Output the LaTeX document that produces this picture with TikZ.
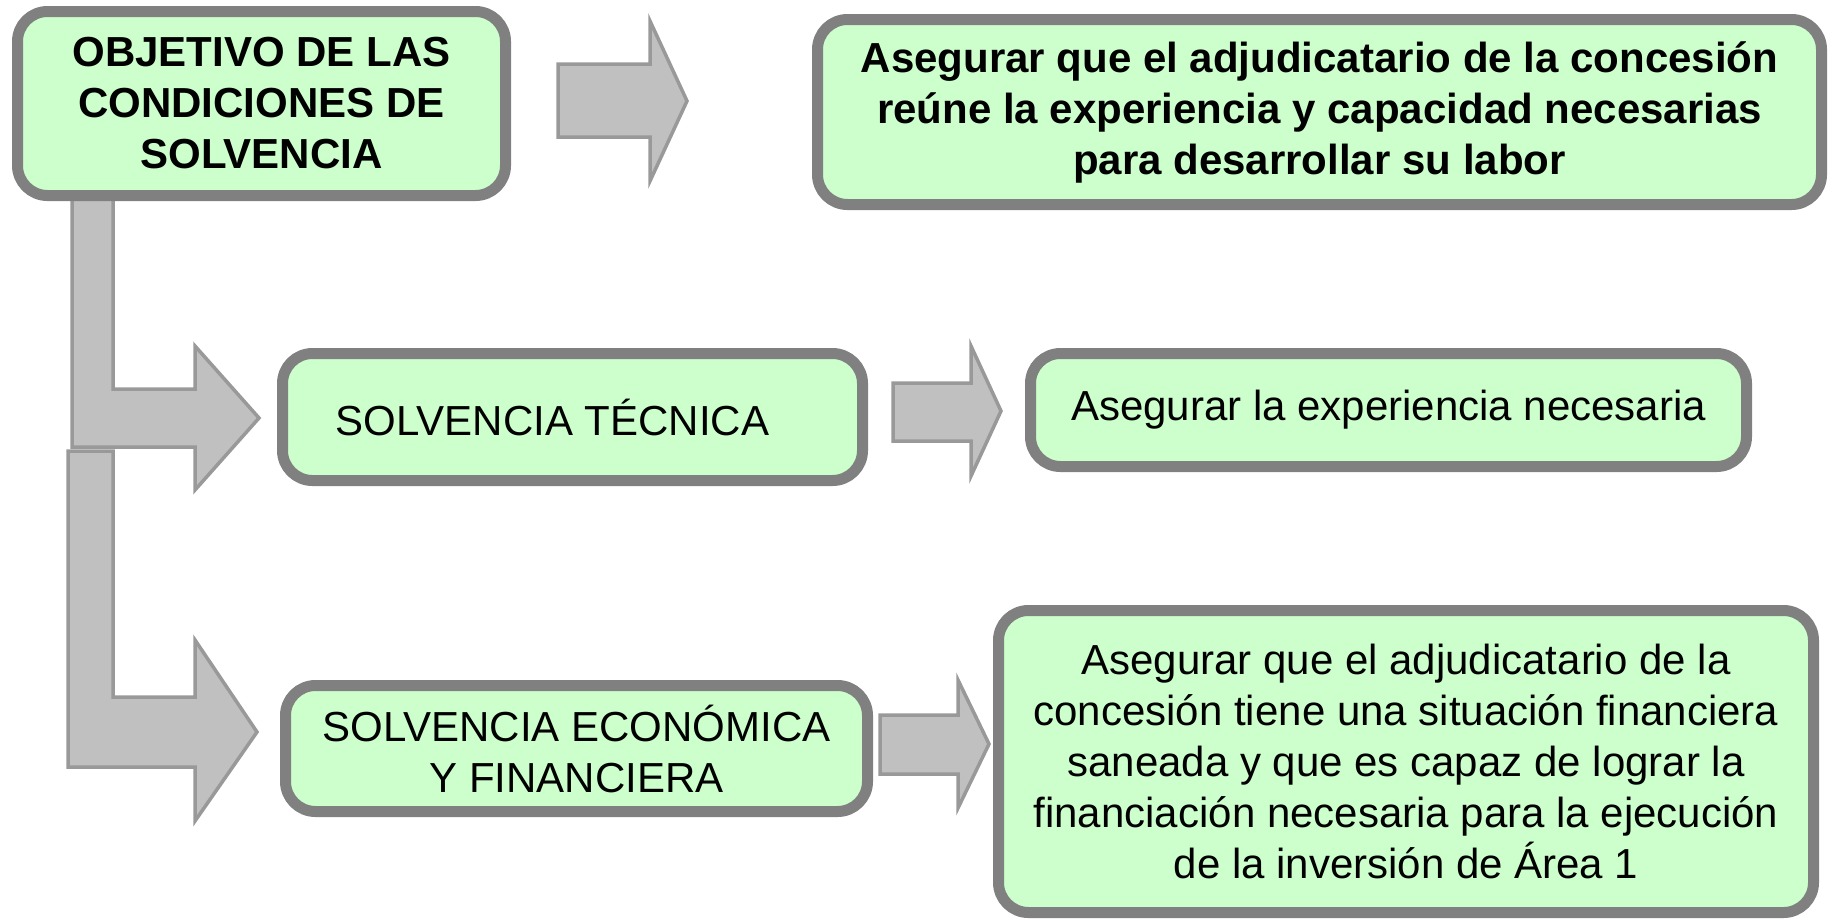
\documentclass[tikz,border=0pt]{standalone}
\usepackage{fontspec}
\setmainfont{Liberation Sans}
\usetikzlibrary{positioning}
\definecolor{boxgreen}{HTML}{CCFFCC}
\definecolor{boxline}{HTML}{808080}
\definecolor{arrowfill}{HTML}{C0C0C0}
\definecolor{arrowline}{HTML}{999999}
\tikzset{
  box/.style={draw=boxline, fill=boxgreen, line width=11pt, rounded corners=30pt,
    align=center, inner sep=0pt, font=\fontsize{42}{51}\selectfont},
  blockarrow/.style={draw=arrowline, fill=arrowfill, line width=3.5pt, line join=miter}
}

\begin{document}
\begin{tikzpicture}[x=1pt, y=-1pt]
\useasboundingbox (0,0) rectangle (1831,922);

% Block arrows (behind the boxes)
\draw[blockarrow] (72,190) -- (113,190) -- (113,389) -- (195,389) -- (195,346) -- (259,418)
  -- (195,490) -- (195,447) -- (72,447) -- cycle;
\draw[blockarrow] (68,451) -- (113,451) -- (113,697) -- (195,697) -- (195,640) -- (257,732)
  -- (195,821) -- (195,767) -- (68,767) -- cycle;
\draw[blockarrow] (558,64) -- (650,64) -- (650,21) -- (687,101) -- (650,181) -- (650,137) -- (558,137) -- cycle;
\draw[blockarrow] (893,383) -- (971,383) -- (971,346) -- (1001,411) -- (971,476) -- (971,441) -- (893,441) -- cycle;
\draw[blockarrow] (880,715) -- (958,715) -- (958,680) -- (989,744) -- (958,808) -- (958,774) -- (880,774) -- cycle;

% Boxes
\node[box, minimum width=488pt, minimum height=184pt, font=\fontsize{42}{51}\selectfont\bfseries]
  (objetivo) at (261.5,103.5) {OBJETIVO DE LAS\\CONDICIONES DE\\SOLVENCIA};
\node[box, minimum width=1004pt, minimum height=185pt, font=\fontsize{42}{51}\selectfont\bfseries]
  (fin) at (1319.5,112) {Asegurar que el adjudicatario de la concesión\\reúne la experiencia y capacidad necesarias\\para desarrollar su labor};
\node[box, minimum width=580pt, minimum height=127pt] (tecnica) at (572.5,417)
  {SOLVENCIA TÉCNICA\hspace*{40pt}};
\node[box, minimum width=716pt, minimum height=113pt] (experiencia) at (1388.5,410)
  {Asegurar la experiencia necesaria};
\node[box, minimum width=582pt, minimum height=126pt] (economica) at (576.5,748.5)
  {SOLVENCIA ECONÓMICA\\Y FINANCIERA};
\node[box, minimum width=815pt, minimum height=302pt] (financiacion) at (1406,761.5)
  {Asegurar que el adjudicatario de la\\concesión tiene una situación financiera\\saneada y que es capaz de lograr la\\financiación necesaria para la ejecución\\de la inversión de Área 1};
\end{tikzpicture}
\end{document}
